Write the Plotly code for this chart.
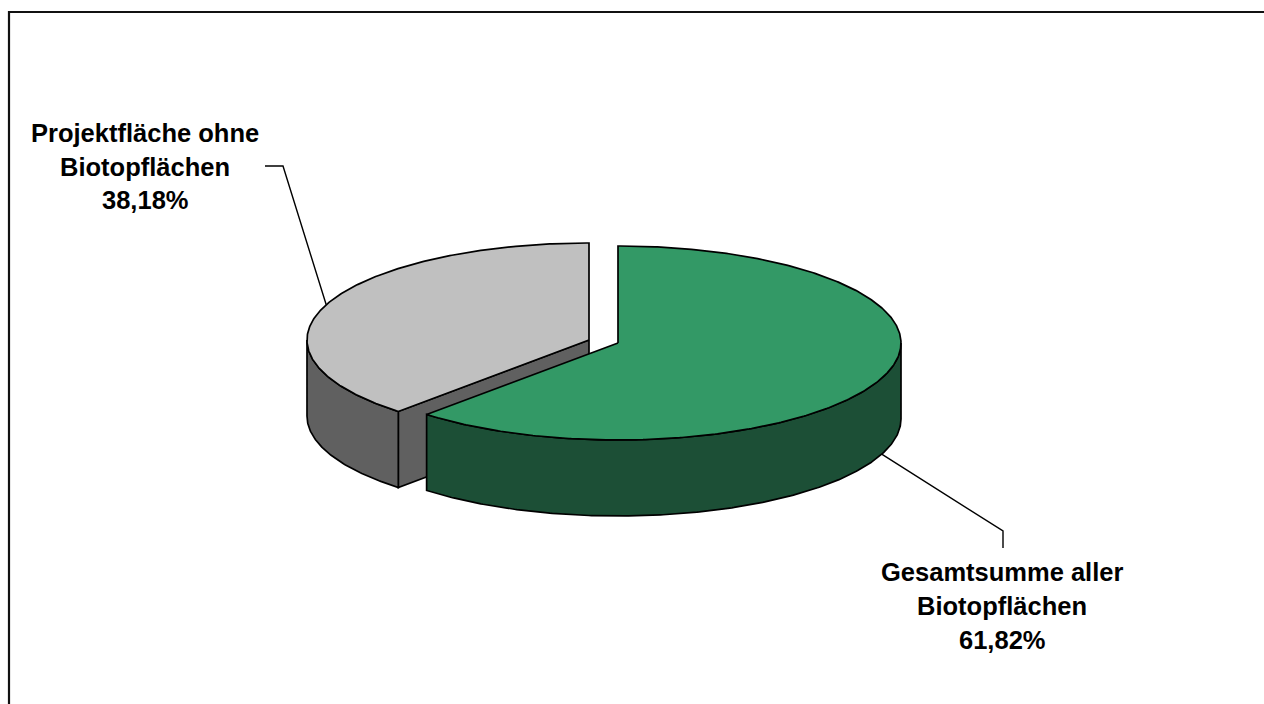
import numpy as np
import plotly.graph_objects as go

# --- data ---
categories = ["Gesamtsumme aller Biotopflächen", "Projektfläche ohne Biotopflächen"]
values = [61.82, 38.18]
value_labels = ["61,82%", "38,18%"]
label_lines = [["Gesamtsumme aller", "Biotopflächen"], ["Projektfläche ohne", "Biotopflächen"]]

# --- styling / geometry ---
W, H = 1264, 704
TOP_COLORS = ["#339966", "#C0C0C0"]
SIDE_COLORS = ["#1C4F36", "#606060"]
CENTERS = [(618, 343), (589, 340)]
RX = [283, 282]
RY = 97
DEPTH = 76
LW = 1.7
FONT = "Liberation Sans, Arial, sans-serif"
FONT_SIZE = 25.5
LABEL_POS = [(1002, [571.5, 605.5, 640]), (145, [133, 167, 200])]

total = sum(values)
edges = np.cumsum([0] + values) / total * 360.0


def pt(i, deg, drop=0.0):
    a = np.radians(deg)
    cx, cy = CENTERS[i]
    return cx + RX[i] * np.sin(a), cy - RY * np.cos(a) + drop


def arc(i, a0, a1, drop=0.0):
    n = max(2, int(abs(a1 - a0)) * 2 + 1)
    return pt(i, np.linspace(a0, a1, n), drop)


fig = go.Figure()


def poly(xs, ys, fill):
    xs = list(xs) + [xs[0]]
    ys = list(ys) + [ys[0]]
    fig.add_trace(go.Scatter(
        x=xs, y=ys, mode="lines", fill="toself", fillcolor=fill,
        line=dict(color="black", width=LW), hoverinfo="skip", showlegend=False,
    ))


def wedge(i):
    a0, a1 = edges[i], edges[i + 1]
    cx, cy = CENTERS[i]
    # walls: inner cut face from the start edge, outer wall visible on the front half
    if i == 1:
        x0, y0 = pt(i, a0)
        poly([cx, x0, x0, cx], [cy, y0, y0 + DEPTH, cy + DEPTH], SIDE_COLORS[i])
    lo, hi = max(a0, 90.0), min(a1, 270.0)
    xa, ya = arc(i, lo, hi)
    xb, yb = arc(i, hi, lo, DEPTH)
    poly(list(xa) + list(xb), list(ya) + list(yb), SIDE_COLORS[i])
    # top face
    xt, yt = arc(i, a0, a1)
    poly([cx] + list(xt), [cy] + list(yt), TOP_COLORS[i])


wedge(1)
wedge(0)

# leader lines start at each wedge's mid angle
mid = [(edges[i] + edges[i + 1]) / 2 for i in range(2)]
gx, gy = pt(0, mid[0], DEPTH)
px, py = pt(1, mid[1])
leaders = [
    ([gx, 1003, 1003], [gy, 531, 548]),
    ([px, 283, 265], [py, 166, 166]),
]
for lx, ly in leaders:
    fig.add_trace(go.Scatter(x=lx, y=ly, mode="lines", line=dict(color="black", width=1.4),
                             hoverinfo="skip", showlegend=False))

annotations = []
for i, (xc, ys) in enumerate(LABEL_POS):
    for text, y in zip(label_lines[i] + [value_labels[i]], ys):
        annotations.append(dict(
            x=xc, y=y, xref="x", yref="y", text=f"<b>{text}</b>", showarrow=False,
            xanchor="center", yanchor="middle",
            font=dict(family=FONT, size=FONT_SIZE, color="black"),
        ))

frame = dict(type="path", path=f"M 9 {H + 5} L 9 12 L {W + 5} 12",
             line=dict(color="#111111", width=2.2), xref="x", yref="y")

fig.update_layout(
    width=W, height=H, autosize=False,
    margin=dict(l=0, r=0, t=0, b=0, pad=0),
    paper_bgcolor="white", plot_bgcolor="white",
    showlegend=False,
    xaxis=dict(range=[0, W], visible=False, fixedrange=True),
    yaxis=dict(range=[H, 0], visible=False, fixedrange=True),
    shapes=[frame],
    annotations=annotations,
)

fig.write_html("out.html", config={"displayModeBar": False},
               post_script="document.body.style.margin='0';document.documentElement.style.overflow='hidden';")
